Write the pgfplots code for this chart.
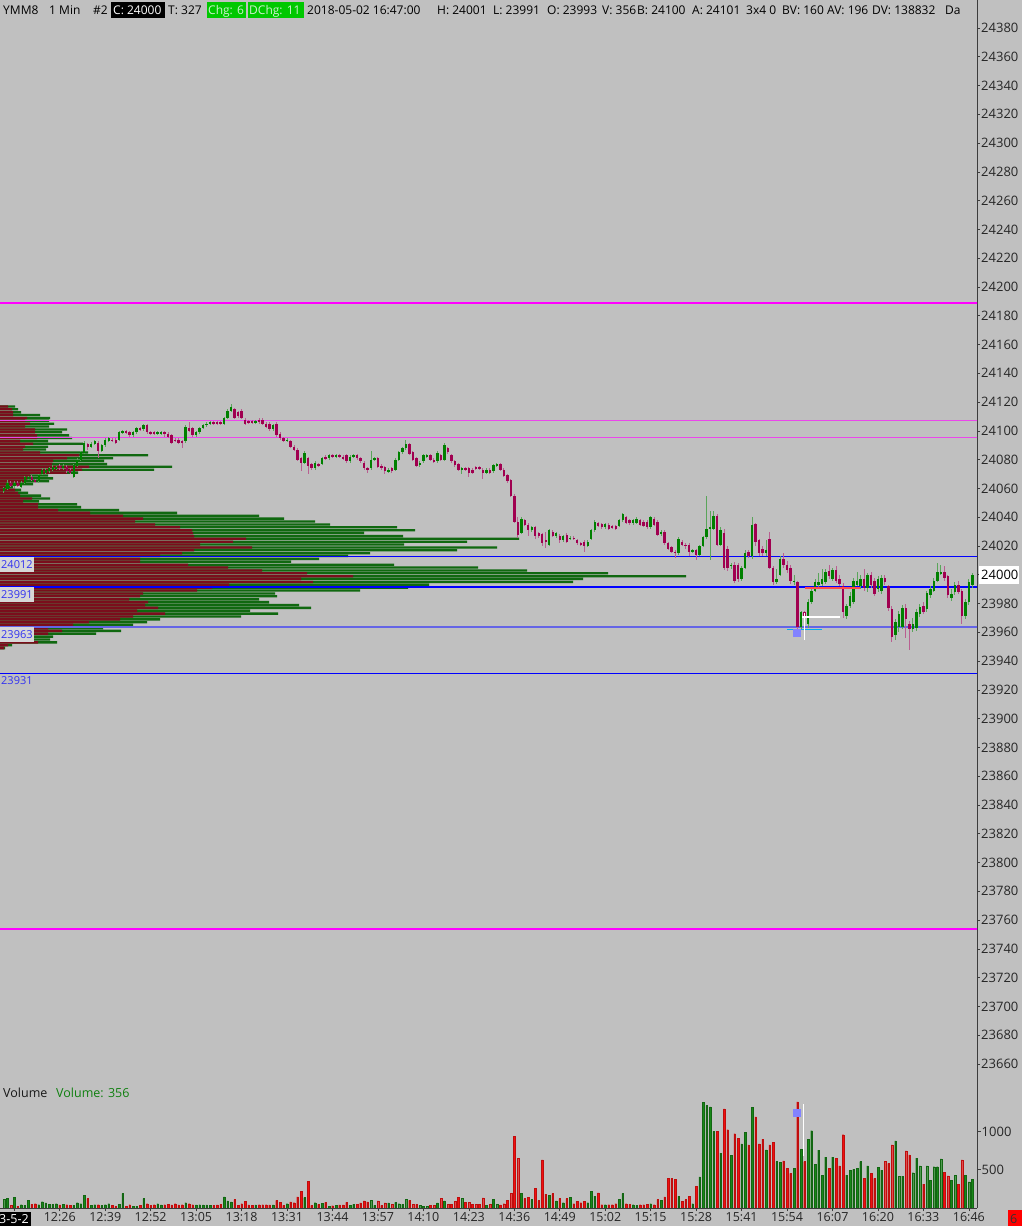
\documentclass[border=0pt]{standalone}
\usepackage{pgfplots}
\pgfplotsset{compat=1.18}
\usepackage{pgfplotstable}
\usepackage{fontspec}
\setmainfont{Open Sans}
\definecolor{bg}{RGB}{192,192,192}
\definecolor{upB}{RGB}{0,128,0}
\definecolor{upW}{RGB}{90,165,90}
\definecolor{dnB}{RGB}{160,0,80}
\definecolor{dnW}{RGB}{185,95,145}
\definecolor{pRed}{RGB}{122,14,28}
\definecolor{pGrn}{RGB}{16,104,16}
\definecolor{vRed}{RGB}{240,16,16}
\definecolor{vGrn}{RGB}{24,136,24}
\definecolor{axc}{RGB}{60,60,60}
\definecolor{lblue}{RGB}{0,0,255}
\definecolor{mblue}{RGB}{100,100,230}
\definecolor{labbg}{RGB}{215,215,215}
\definecolor{labtx}{RGB}{50,50,240}
\definecolor{hdrgreen}{RGB}{0,200,0}
\definecolor{hdrtxt}{RGB}{205,240,205}
\definecolor{pinkl}{RGB}{235,70,235}
\definecolor{magl}{RGB}{255,0,255}
\definecolor{sqblue}{RGB}{130,130,255}
\definecolor{volgreen}{RGB}{16,128,16}

\pgfplotstableread{
t o h l c v
-3 24058 24061 24057 24060 114
-2 24060 24066 24059 24064 123
-1 24064 24065 24061 24062 35
0 24062 24065 24060 24064 140
1 24064 24065 24061 24062 26
2 24061 24065 24060 24064 44
3 24064 24069 24063 24068 35
4 24067 24069 24066 24068 97
5 24068 24069 24065 24066 48
6 24066 24067 24064 24065 57
7 24065 24070 24064 24069 44
8 24070 24074 24069 24073 83
9 24071 24074 24070 24073 66
10 24072 24075 24071 24074 48
11 24073 24076 24072 24075 48
12 24074 24076 24073 24075 57
13 24076 24077 24073 24074 40
14 24074 24077 24073 24076 48
15 24075 24076 24071 24072 44
16 24073 24074 24070 24071 35
17 24068 24077 24067 24076 35
18 24076 24081 24075 24080 70
19 24080 24086 24079 24085 57
20 24085 24093 24084 24092 167
21 24091 24092 24087 24089 123
22 24089 24092 24088 24091 35
23 24091 24094 24090 24093 44
24 24092 24093 24081 24086 44
25 24086 24091 24085 24090 35
26 24090 24095 24089 24094 44
27 24093 24096 24092 24095 57
28 24094 24095 24092 24093 35
29 24094 24095 24091 24092 22
30 24094 24100 24093 24099 48
31 24099 24101 24098 24100 189
32 24100 24101 24098 24099 22
33 24099 24100 24096 24097 44
34 24097 24100 24096 24099 26
35 24099 24103 24098 24102 26
36 24102 24103 24100 24101 35
37 24101 24105 24100 24104 123
38 24104 24105 24098 24099 57
39 24099 24100 24097 24098 35
40 24099 24100 24097 24098 44
41 24098 24100 24097 24099 57
42 24098 24100 24097 24099 40
43 24099 24100 24096 24098 44
44 24098 24099 24095 24096 48
45 24097 24098 24091 24092 40
46 24094 24095 24092 24093 57
47 24094 24095 24091 24092 40
48 24093 24094 24088 24092 44
49 24093 24104 24092 24103 70
50 24102 24106 24099 24100 57
51 24102 24103 24096 24097 44
52 24097 24100 24096 24099 40
53 24099 24103 24098 24102 44
54 24102 24105 24101 24104 40
55 24104 24106 24103 24105 40
56 24105 24107 24104 24106 35
57 24106 24107 24104 24105 35
58 24106 24107 24104 24105 40
59 24106 24107 24104 24105 48
60 24105 24110 24104 24109 145
61 24109 24115 24108 24114 92
62 24114 24119 24113 24117 79
63 24115 24116 24108 24109 110
64 24113 24114 24109 24110 35
65 24114 24115 24108 24109 57
66 24108 24109 24104 24105 88
67 24107 24108 24105 24106 40
68 24107 24108 24105 24106 35
69 24106 24108 24105 24107 40
70 24108 24109 24105 24106 44
71 24108 24109 24104 24105 44
72 24105 24106 24102 24103 44
73 24105 24106 24100 24101 40
74 24101 24105 24100 24104 40
75 24105 24106 24096 24097 101
76 24098 24099 24094 24095 75
77 24095 24096 24092 24093 35
78 24093 24095 24092 24094 57
79 24093 24094 24088 24089 79
80 24089 24090 24086 24087 70
81 24087 24088 24079 24080 145
82 24081 24082 24072 24078 219
83 24078 24086 24077 24085 136
84 24081 24082 24070 24076 351
85 24077 24078 24073 24074 35
86 24074 24079 24073 24078 70
87 24077 24078 24075 24076 48
88 24077 24082 24076 24081 61
89 24082 24083 24080 24081 75
90 24081 24084 24080 24083 26
91 24083 24084 24081 24082 30
92 24082 24084 24081 24083 35
93 24083 24084 24081 24082 40
94 24082 24083 24080 24081 40
95 24083 24084 24078 24079 75
96 24079 24083 24078 24082 35
97 24082 24084 24081 24083 48
98 24083 24084 24080 24081 48
99 24081 24082 24078 24079 66
100 24078 24079 24073 24074 92
101 24074 24075 24071 24073 79
102 24074 24086 24073 24080 97
103 24080 24082 24079 24081 35
104 24081 24082 24074 24075 92
105 24076 24077 24073 24074 35
106 24075 24076 24070 24072 66
107 24072 24074 24071 24073 66
108 24074 24075 24071 24072 48
109 24073 24081 24072 24080 75
110 24080 24086 24079 24085 57
111 24085 24089 24084 24088 48
112 24088 24094 24087 24091 114
113 24091 24092 24083 24084 101
114 24085 24086 24079 24080 48
115 24081 24082 24075 24076 48
116 24076 24079 24075 24078 35
117 24079 24084 24078 24083 26
118 24082 24084 24081 24083 26
119 24083 24084 24079 24080 35
120 24080 24081 24078 24079 35
121 24079 24086 24078 24085 66
122 24083 24084 24079 24080 127
123 24080 24092 24079 24090 92
124 24088 24089 24084 24085 48
125 24083 24084 24078 24079 48
126 24079 24080 24075 24076 88
127 24077 24078 24072 24073 140
128 24073 24075 24070 24074 123
129 24074 24075 24072 24073 75
130 24074 24075 24068 24071 75
131 24073 24074 24070 24071 48
132 24075 24076 24073 24074 48
133 24075 24076 24073 24074 48
134 24073 24074 24067 24071 132
135 24071 24074 24070 24073 35
136 24073 24074 24070 24071 48
137 24072 24077 24071 24076 110
138 24076 24078 24075 24077 48
139 24077 24078 24072 24073 40
140 24073 24074 24068 24069 57
141 24069 24070 24064 24065 101
142 24066 24067 24054 24055 189
143 24055 24056 24036 24037 935
144 24037 24040 24026 24028 650
145 24029 24040 24028 24039 189
146 24038 24039 24034 24035 123
147 24035 24036 24027 24031 136
148 24031 24034 24030 24033 110
149 24033 24034 24025 24027 255
150 24029 24030 24026 24027 97
151 24028 24029 24020 24022 628
152 24024 24030 24019 24023 180
153 24021 24032 24020 24031 167
154 24030 24031 24026 24027 189
155 24027 24030 24026 24029 92
156 24027 24028 24022 24024 123
157 24024 24028 24023 24027 70
158 24028 24029 24022 24023 123
159 24025 24027 24024 24026 136
160 24026 24027 24024 24025 57
161 24024 24025 24021 24022 88
162 24022 24023 24020 24021 70
163 24023 24024 24016 24020 88
164 24020 24024 24019 24023 70
165 24025 24032 24024 24031 219
166 24031 24038 24030 24037 154
167 24036 24037 24033 24034 198
168 24035 24036 24032 24033 44
169 24033 24036 24032 24035 44
170 24035 24036 24031 24032 44
171 24034 24035 24032 24033 44
172 24034 24035 24031 24032 57
173 24034 24039 24033 24038 110
174 24038 24043 24037 24042 189
175 24040 24041 24035 24036 57
176 24038 24039 24035 24036 48
177 24036 24039 24035 24038 44
178 24036 24040 24035 24039 35
179 24038 24039 24034 24035 44
180 24037 24038 24033 24034 44
181 24037 24038 24032 24033 48
182 24033 24041 24032 24040 57
183 24039 24040 24034 24035 44
184 24037 24038 24027 24028 110
185 24028 24031 24027 24030 101
186 24030 24031 24021 24022 145
187 24022 24023 24017 24018 386
188 24019 24020 24015 24016 386
189 24016 24017 24012 24015 373
190 24015 24026 24014 24025 154
191 24023 24024 24020 24021 88
192 24021 24022 24018 24020 110
193 24021 24022 24013 24016 154
194 24016 24018 24015 24017 57
195 24017 24018 24010 24014 285
196 24014 24021 24013 24020 408
197 24020 24027 24019 24026 1383
198 24026 24055 24025 24032 1339
199 24032 24044 24010 24033 1321
200 24032 24044 24031 24041 1000
201 24041 24042 24020 24021 1000
202 24021 24033 24020 24031 716
203 24029 24032 24003 24005 1295
204 24018 24020 24003 24005 1022
205 24006 24008 24004 24007 689
206 24007 24009 23994 23996 970
207 24007 24008 23995 23997 913
208 23997 24006 23996 24005 838
209 24005 24017 24004 24015 992
210 24016 24017 24012 24013 825
211 24013 24040 24011 24035 1313
212 24035 24036 24020 24023 1190
213 24024 24025 24013 24015 838
214 24018 24020 24013 24015 900
215 24015 24024 24013 24017 759
216 24025 24030 24004 24005 825
217 24005 24006 23993 23995 856
218 23995 24004 23994 23997 606
219 24000 24013 23999 24011 593
220 24011 24015 24005 24007 614
221 24007 24010 24001 24003 518
222 24005 24007 23994 23996 452
223 23995 24000 23993 23996 518
224 23995 23996 23962 23964 1387
225 23964 23975 23962 23974 768
226 23974 23975 23966 23971 606
227 23966 23983 23963 23981 900
228 23981 23990 23980 23989 1010
229 23989 23997 23988 23995 571
230 23993 24001 23991 23995 755
231 23994 24004 23992 23997 430
232 23995 24004 23994 24002 663
233 24003 24007 23997 23999 518
234 23997 24005 23996 24003 663
235 24003 24006 23994 23996 650
236 23997 24000 23992 23994 549
237 23992 23994 23970 23974 957
238 23971 23980 23969 23978 430
239 23978 23988 23977 23985 496
240 23981 23998 23980 23996 505
241 23993 24002 23992 23996 518
242 23992 24000 23990 23997 606
243 23997 24004 23989 23991 386
244 23991 24001 23988 24000 549
245 24000 24002 23991 23993 452
246 23996 23998 23985 23987 386
247 23990 23999 23988 23997 531
248 23989 24000 23987 23998 496
249 23998 24000 23993 23995 606
250 23992 23993 23975 23977 584
251 23976 23978 23953 23957 825
252 23958 23969 23955 23967 878
253 23964 23975 23960 23973 417
254 23964 23979 23962 23977 417
255 23977 23980 23956 23969 746
256 23966 23968 23948 23962 694
257 23962 23970 23960 23966 461
258 23963 23976 23961 23974 650
259 23973 23980 23971 23978 549
260 23978 23981 23973 23974 312
261 23976 23989 23974 23987 549
262 23986 23992 23984 23990 364
263 23989 23998 23988 23996 540
264 23996 24008 23995 24002 540
265 24001 24007 24000 24002 641
266 24002 24006 23996 23998 470
267 23999 24000 23984 23986 421
268 23984 23990 23982 23987 364
269 23988 23995 23986 23993 430
270 23993 23996 23987 23988 307
271 23989 23990 23966 23971 628
272 23971 23983 23969 23981 430
273 23981 23997 23979 23995 342
274 23993 24001 23991 24000 373
}\candles

\pgfplotstableread{
p r T
24117 8 15
24115 12 18
24113 13 21
24111 13 40
24109 27 50
24107 25 49
24105 30 54
24103 25 49
24101 35 67
24099 35 62
24097 37 69
24095 37 72
24093 20 48
24091 33 83
24089 25 48
24087 23 46
24085 40 88
24083 79 148
24081 67 113
24079 53 104
24077 52 107
24075 89 172
24073 82 154
24071 67 78
24069 30 48
24067 27 53
24065 25 49
24063 20 33
24061 5 13
24059 15 21
24057 18 28
24055 20 41
24053 32 50
24051 23 39
24049 38 77
24047 38 81
24045 58 119
24043 90 177
24041 123 259
24039 143 284
24037 135 315
24035 155 330
24033 180 397
24031 192 415
24029 193 364
24027 194 403
24025 246 519
24023 233 467
24021 200 404
24019 252 497
24017 194 457
24015 182 370
24013 160 348
24011 140 319
24009 140 291
24007 188 394
24005 228 478
24003 262 527
24001 307 608
23999 353 686
23997 301 583
23995 313 573
23993 229 429
23991 212 408
23989 197 360
23987 143 275
23985 140 277
23983 129 259
23981 148 269
23979 145 299
23977 158 311
23975 137 250
23973 165 278
23971 133 241
23969 120 160
23967 89 147
23965 73 133
23963 48 103
23961 62 121
23959 48 96
23957 33 53
23955 33 50
23953 38 57
23951 8 12
23949 4 5
}\profile

\newcommand{\hfont}{\fontsize{12}{14}\selectfont}
\newcommand{\hdr}[2]{\node[anchor=base west, inner sep=0pt, font=\hfont, text=black] at (#1pt,1211.5pt) {#2};}
\newcommand{\lvl}[2]{\node[anchor=north west, fill=labbg, inner sep=1pt, minimum height=15pt, text=labtx, font=\fontsize{11}{13}\selectfont] at (axis cs:-4.09,#1) {#2};}

\begin{document}
\begin{tikzpicture}
\path[use as bounding box] (0pt,0pt) rectangle (1022pt,1226pt);
\fill[bg] (0pt,0pt) rectangle (1022pt,1226pt);

% ---------- volume profile (axis units = price - 23600) ----------
\begin{axis}[at={(0pt,143pt)}, anchor=south west, width=977pt, height=1083pt, scale only axis,
  xmin=0, xmax=977, ymin=46.8, ymax=799.46, hide axis,
  y filter/.expression={y-23600},
  xbar, bar width=2.3pt, bar shift=0pt]
\addplot[fill=pGrn, draw=none] table[x=T,y=p]{\profile};
\addplot[fill=pRed, draw=none] table[x=r,y=p]{\profile};
\end{axis}

% ---------- price panel ----------
\begin{axis}[at={(0pt,143pt)}, anchor=south west, width=977pt, height=1083pt, scale only axis,
  xmin=-4.09, xmax=275.33, ymin=46.8, ymax=799.46,
  y filter/.expression={y-23600},
  axis x line=none, axis y line*=right,
  axis line style={draw=axc, line width=0.8pt},
  ytick={60,80,100,120,140,160,180,200,220,240,260,280,300,320,340,360,380,400,420,440,460,480,500,520,540,560,580,600,620,640,660,680,700,720,740,760,780},
  yticklabels={23660,23680,23700,23720,23740,23760,23780,23800,23820,23840,23860,23880,23900,23920,23940,23960,23980,,24020,24040,24060,24080,24100,24120,24140,24160,24180,24200,24220,24240,24260,24280,24300,24320,24340,24360,24380},
  tick align=outside, major tick length=3pt,
  tick style={draw=axc, line width=0.6pt},
  yticklabel style={font=\fontsize{13}{15}\selectfont, anchor=west, inner xsep=0pt, xshift=1pt, text=black!85}]
% horizontal levels
\addplot[magl, line width=1.8pt] coordinates {(-5,24189) (280,24189)};
\addplot[magl, line width=1.8pt] coordinates {(-5,23754) (280,23754)};
\addplot[pinkl, line width=1pt] coordinates {(-5,24107) (280,24107)};
\addplot[pinkl, line width=1pt] coordinates {(-5,24095.6) (280,24095.6)};
\addplot[lblue, line width=1.3pt] coordinates {(-5,24012.5) (280,24012.5)};
\addplot[lblue, line width=1.3pt] coordinates {(-5,23991.5) (280,23991.5)};
\addplot[mblue, line width=1.7pt] coordinates {(-5,23963.5) (280,23963.5)};
\addplot[lblue, line width=1.3pt] coordinates {(-5,23931.5) (280,23931.5)};
% wicks
\addplot[draw=none, mark=none, restrict expr to domain={\thisrow{c}-\thisrow{o}}{0:1000},
  error bars/.cd, y dir=both, y explicit, error mark=none,
  error bar style={draw=upW, line width=0.9pt}]
  table[x=t, y expr={(\thisrow{h}+\thisrow{l})/2}, y error expr={(\thisrow{h}-\thisrow{l})/2}]{\candles};
\addplot[draw=none, mark=none, restrict expr to domain={\thisrow{c}-\thisrow{o}}{-1000:-0.5},
  error bars/.cd, y dir=both, y explicit, error mark=none,
  error bar style={draw=dnW, line width=0.9pt}]
  table[x=t, y expr={(\thisrow{h}+\thisrow{l})/2}, y error expr={(\thisrow{h}-\thisrow{l})/2}]{\candles};
% bodies
\addplot[draw=none, mark=none, restrict expr to domain={\thisrow{c}-\thisrow{o}}{0:1000},
  error bars/.cd, y dir=both, y explicit, error mark=none,
  error bar style={draw=upB, line width=2.4pt}]
  table[x=t, y expr={(\thisrow{o}+\thisrow{c})/2}, y error expr={max(abs(\thisrow{c}-\thisrow{o})/2,0.4)}]{\candles};
\addplot[draw=none, mark=none, restrict expr to domain={\thisrow{c}-\thisrow{o}}{-1000:-0.5},
  error bars/.cd, y dir=both, y explicit, error mark=none,
  error bar style={draw=dnB, line width=2.4pt}]
  table[x=t, y expr={(\thisrow{o}+\thisrow{c})/2}, y error expr={max(abs(\thisrow{c}-\thisrow{o})/2,0.4)}]{\candles};
% cursor decorations
\addplot[red!70!white, line width=1.5pt] coordinates {(226.1,23990.8) (241.9,23990.8)};
\addplot[white, line width=1.2pt] coordinates {(225.3,23970.7) (236.1,23970.7)};
\addplot[cyan, line width=0.8pt] coordinates {(221,23961.9) (231,23961.9)};
\addplot[white, line width=1pt] coordinates {(225.85,23973.5) (225.85,23954.7)};
\addplot[only marks, mark=square*, mark size=3.6pt, color=sqblue] coordinates {(223.8,23959.6)};
% level labels (axis units = price - 23600)
\lvl{412.5}{24012}
\lvl{391.5}{23991}
\lvl{363.5}{23963}
\node[anchor=north west, inner sep=1pt, minimum height=15pt, text=labtx, font=\fontsize{11}{13}\selectfont] at (axis cs:-4.09,331.5) {23931};
\end{axis}

% ---------- volume panel ----------
\begin{axis}[at={(0pt,18pt)}, anchor=south west, width=977pt, height=125pt, scale only axis,
  xmin=-4.09, xmax=275.33, ymin=0, ymax=1632,
  axis x line*=bottom, axis y line*=right,
  axis line style={draw=axc, line width=0.8pt},
  ytick={500,1000}, yticklabels={500,1000},
  xtick={0,13,26,39,52,65,78,91,104,117,130,143,156,169,182,195,208,221,234,247,260,273},
  xticklabels={,12:26,12:39,12:52,13:05,13:18,13:31,13:44,13:57,14:10,14:23,14:36,14:49,15:02,15:15,15:28,15:41,15:54,16:07,16:20,16:33,16:46},
  tick align=outside, major tick length=3.5pt,
  tick style={draw=axc, line width=0.6pt},
  yticklabel style={font=\fontsize{13}{15}\selectfont, anchor=west, inner xsep=0pt, xshift=1pt, text=black!85},
  xticklabel style={font=\fontsize{12.5}{14}\selectfont, anchor=base, inner sep=0pt, yshift=-9.5pt, text=black!85},
  ybar, bar width=1.6pt, bar shift=0pt]
\addplot[fill=vGrn, draw=vGrn!75!black, line width=0.2pt, restrict expr to domain={\thisrow{c}-\thisrow{o}}{0:1000}] table[x=t,y=v]{\candles};
\addplot[fill=vRed, draw=vRed!80!black, line width=0.2pt, restrict expr to domain={\thisrow{c}-\thisrow{o}}{-1000:-0.5}] table[x=t,y=v]{\candles};
\addplot[sharp plot, white, line width=1pt] coordinates {(225.85,1358) (225.85,679)};
\addplot[only marks, mark=square*, mark size=3.6pt, color=sqblue] coordinates {(223.8,1240)};
\end{axis}

% ---------- texts ----------
\hdr{3}{YMM8}
\hdr{49}{1 Min}
\hdr{93}{\#2}
\fill[black] (111pt,1208pt) rectangle (165pt,1224pt);
\node[anchor=base west, inner sep=0pt, font=\hfont, text=white] at (113pt,1211.5pt) {C: 24000};
\hdr{168}{T: 327}
\fill[hdrgreen] (207pt,1208pt) rectangle (246pt,1224pt);
\node[anchor=base west, inner sep=0pt, font=\hfont, text=hdrtxt] at (208pt,1211.5pt) {Chg: 6};
\fill[hdrgreen] (248pt,1208pt) rectangle (304pt,1224pt);
\node[anchor=base west, inner sep=0pt, font=\hfont, text=hdrtxt] at (249pt,1211.5pt) {DChg: 11};
\hdr{307}{2018-05-02 16:47:00}
\hdr{437}{H: 24001}
\hdr{493}{L: 23991}
\hdr{547}{O: 23993}
\hdr{602}{V: 356}
\hdr{637}{B: 24100}
\hdr{692}{A: 24101}
\hdr{746}{3x4 0}
\hdr{782}{BV: 160}
\hdr{827}{AV: 196}
\hdr{872}{DV: 138832}
\begin{scope}
\clip (940pt,1200pt) rectangle (976pt,1226pt);
\hdr{945}{Da}
\end{scope}

% current price marker
\fill[white] (979pt,642pt) rectangle (1019pt,660pt);
\node[anchor=west, inner sep=0pt, font=\fontsize{13}{15}\selectfont, text=black] at (981pt,651pt) {24000};

% volume caption
\node[anchor=base west, inner sep=0pt, font=\fontsize{12.5}{14}\selectfont, text=black!90] at (3pt,128pt) {Volume};
\node[anchor=base west, inner sep=0pt, font=\fontsize{12.5}{14}\selectfont, text=volgreen] at (56pt,128pt) {Volume: 356};

% date box bottom left
\fill[black] (0pt,0pt) rectangle (31pt,14pt);
\node[anchor=base west, inner sep=0pt, font=\fontsize{12.5}{14}\selectfont, text=white] at (-1pt,2pt) {3-5-2};

% red box bottom right
\fill[red] (1008pt,0pt) rectangle (1022pt,16pt);
\node[anchor=base west, inner sep=0pt, font=\fontsize{12.5}{14}\selectfont, text=black!80] at (1010pt,2pt) {6};
\end{tikzpicture}
\end{document}
